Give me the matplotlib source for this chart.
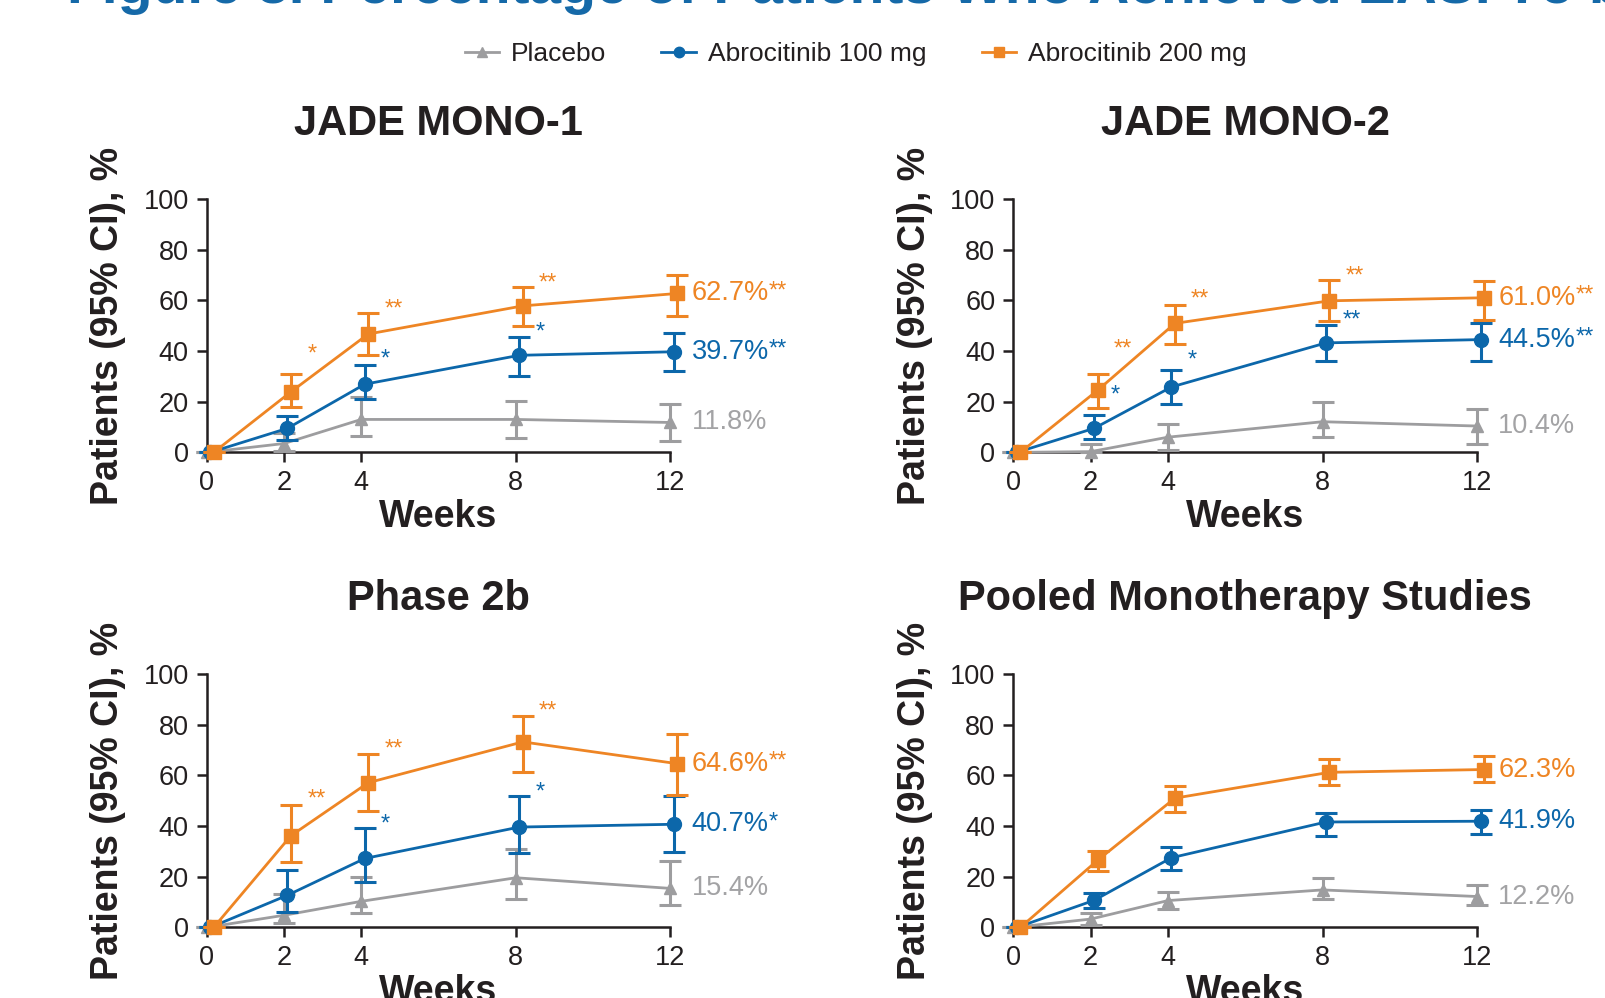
import matplotlib
matplotlib.use("Agg")
import matplotlib.pyplot as plt

plt.rcParams['font.family'] = ['Liberation Sans', 'DejaVu Sans']

weeks = [0, 2, 4, 8, 12]
tick_labels = ["0", "2", "4", "8", "12"]

series_names = ["Placebo", "Abrocitinib 100 mg", "Abrocitinib 200 mg"]
panel_titles = ["JADE MONO-1", "JADE MONO-2", "Phase 2b", "Pooled Monotherapy Studies"]

# JADE MONO-1
m1_pbo = [0, 3.5, 13.0, 13.0, 11.8]
m1_pbo_lo = [0, 0.5, 6.5, 5.6, 4.5]
m1_pbo_hi = [0, 7.6, 22.0, 20.4, 19.0]
m1_100 = [0, 9.5, 26.9, 38.3, 39.7]
m1_100_lo = [0, 5.0, 20.9, 30.0, 32.0]
m1_100_hi = [0, 14.4, 34.3, 45.7, 47.0]
m1_200 = [0, 23.9, 46.7, 57.8, 62.7]
m1_200_lo = [0, 17.8, 38.5, 49.9, 53.8]
m1_200_hi = [0, 30.8, 55.0, 65.3, 69.8]
m1_100_stars = ["", "", "*", "*", ""]
m1_200_stars = ["", "*", "**", "**", ""]
m1_end_stars = ["", "**", "**"]

# JADE MONO-2
m2_pbo = [0, 0.3, 6.0, 12.1, 10.4]
m2_pbo_lo = [0, 0, 0.8, 5.9, 3.3]
m2_pbo_hi = [0, 3.3, 11.1, 19.8, 17.0]
m2_100 = [0, 9.5, 25.8, 43.2, 44.5]
m2_100_lo = [0, 5.2, 18.9, 36.2, 36.2]
m2_100_hi = [0, 14.8, 32.6, 50.4, 51.0]
m2_200 = [0, 24.5, 50.9, 59.8, 61.0]
m2_200_lo = [0, 17.4, 42.8, 52.0, 52.3]
m2_200_hi = [0, 30.8, 58.2, 68.0, 67.6]
m2_100_stars = ["", "*", "*", "**", ""]
m2_200_stars = ["", "**", "**", "**", ""]
m2_end_stars = ["", "**", "**"]

# Phase 2b
p2_pbo = [0, 4.8, 10.3, 19.6, 15.4]
p2_pbo_lo = [0, 1.6, 5.5, 11.4, 8.8]
p2_pbo_hi = [0, 13.3, 20.0, 31.0, 26.4]
p2_100 = [0, 12.7, 27.2, 39.6, 40.7]
p2_100_lo = [0, 6.1, 18.0, 29.4, 29.9]
p2_100_hi = [0, 22.5, 39.2, 51.9, 51.9]
p2_200 = [0, 36.2, 57.1, 73.2, 64.6]
p2_200_lo = [0, 25.9, 45.8, 61.4, 52.2]
p2_200_hi = [0, 48.4, 68.6, 83.5, 76.5]
p2_100_stars = ["", "", "*", "*", ""]
p2_200_stars = ["", "**", "**", "**", ""]
p2_end_stars = ["", "*", "**"]

# Pooled
pl_pbo = [0, 3.3, 10.6, 14.8, 12.2]
pl_pbo_lo = [0, 0.9, 7.2, 11.1, 8.8]
pl_pbo_hi = [0, 5.5, 14.1, 19.5, 16.7]
pl_100 = [0, 10.7, 27.5, 41.6, 41.9]
pl_100_lo = [0, 7.5, 22.7, 35.9, 37.0]
pl_100_hi = [0, 13.7, 31.8, 45.1, 46.4]
pl_200 = [0, 26.5, 51.0, 61.2, 62.3]
pl_200_lo = [0, 22.1, 45.5, 56.1, 57.5]
pl_200_hi = [0, 30.1, 55.6, 66.4, 67.5]
pl_100_stars = ["", "", "", "", ""]
pl_200_stars = ["", "", "", "", ""]
pl_end_stars = ["", "", ""]

GRAY = "#9d9d9f"
GRAY_TXT = "#a3a3a5"
BLUE = "#0c67aa"
ORANGE = "#ee8524"
DARK = "#231f20"

colors = [GRAY, BLUE, ORANGE]
txt_colors = [GRAY_TXT, BLUE, ORANGE]
markers = ["^", "o", "s"]
msizes = [9, 10, 10]
jitter = [0.0, 0.09, 0.18]

panels = [
    ([(m1_pbo, m1_pbo_lo, m1_pbo_hi), (m1_100, m1_100_lo, m1_100_hi), (m1_200, m1_200_lo, m1_200_hi)],
     [None, m1_100_stars, m1_200_stars], m1_end_stars),
    ([(m2_pbo, m2_pbo_lo, m2_pbo_hi), (m2_100, m2_100_lo, m2_100_hi), (m2_200, m2_200_lo, m2_200_hi)],
     [None, m2_100_stars, m2_200_stars], m2_end_stars),
    ([(p2_pbo, p2_pbo_lo, p2_pbo_hi), (p2_100, p2_100_lo, p2_100_hi), (p2_200, p2_200_lo, p2_200_hi)],
     [None, p2_100_stars, p2_200_stars], p2_end_stars),
    ([(pl_pbo, pl_pbo_lo, pl_pbo_hi), (pl_100, pl_100_lo, pl_100_hi), (pl_200, pl_200_lo, pl_200_hi)],
     [None, pl_100_stars, pl_200_stars], pl_end_stars),
]

fig = plt.figure(figsize=(16.05, 9.98), dpi=100)

lefts = [0.1288, 0.6314, 0.1288, 0.6314]
bottoms = [0.5467, 0.5467, 0.0707, 0.0707]
W, H = 0.2889, 0.2540

# poster heading, only its lower part is inside the crop
fig.text(0.0415, 0.9965, "Figure 3. Percentage of Patients Who Achieved EASI-75 by Visit",
         color="#1569a8", fontsize=41, fontweight="bold", va="baseline", ha="left")

handles = []
for i, (series, stars, end_stars) in enumerate(panels):
    ax = fig.add_axes([lefts[i], bottoms[i], W, H])
    for k, (vals, lo, hi) in enumerate(series):
        x = [w + jitter[k] for w in weeks]
        yerr = [[v - l for v, l in zip(vals, lo)], [h - v for v, h in zip(vals, hi)]]
        yerr[0][0] = 0; yerr[1][0] = 0
        eb = ax.errorbar(x, vals, yerr=yerr, color=colors[k], marker=markers[k],
                         markersize=msizes[k], lw=2.0, elinewidth=2.2, capsize=8,
                         capthick=2.2, zorder=3 + k, clip_on=False)
        if i == 0:
            handles.append(eb.lines[0])
        if stars[k] is not None:
            for j, s in enumerate(stars[k]):
                if not s:
                    continue
                sx = x[j] + 0.42
                # keep the star clear of the rising line
                slope = (vals[j + 1] - vals[j]) / (weeks[j + 1] - weeks[j])
                on_line = vals[j] + slope * 0.6
                sy = max(hi[j] + 1.5, on_line + 8)
                ax.text(sx, sy, s, color=colors[k], fontsize=17, ha="left", va="center")
        t = ax.text(12 + 0.55, vals[-1], f"{vals[-1]:.1f}%", color=txt_colors[k],
                    fontsize=19.5, ha="left", va="center")
        if end_stars[k]:
            ax.annotate(end_stars[k], xy=(1, 1), xycoords=t, ha="left", va="top",
                        fontsize=17, color=txt_colors[k])

    ax.set_xlim(0, 12)
    ax.set_ylim(0, 100)
    ax.set_xticks(weeks)
    ax.set_xticklabels(tick_labels)
    ax.set_yticks([0, 20, 40, 60, 80, 100])
    for sp in ["top", "right"]:
        ax.spines[sp].set_visible(False)
    for sp in ["left", "bottom"]:
        ax.spines[sp].set_linewidth(1.8)
        ax.spines[sp].set_color(DARK)
    ax.tick_params(length=7, width=1.8, color=DARK, labelcolor=DARK, pad=6)
    for lab in ax.get_xticklabels() + ax.get_yticklabels():
        lab.set_family(["Liberation Sans Narrow", "Liberation Sans"])
        lab.set_fontsize(19.5)
    ax.set_ylabel("Patients (95% CI), %", fontsize=27, fontweight="bold", color=DARK, va="center")
    ax.yaxis.set_label_coords(-0.212, 0.5)
    ax.set_xlabel("Weeks", fontsize=27, fontweight="bold", color=DARK, va="center")
    ax.xaxis.set_label_coords(0.5, -0.255)
    ax.text(0.5, 1.297, panel_titles[i], transform=ax.transAxes, ha="center", va="center",
            fontsize=30, fontweight="bold", color=DARK)

fig.legend(handles, series_names, loc="center", bbox_to_anchor=(0.533, 0.946), ncol=3,
           frameon=False, fontsize=19, handlelength=1.3, handletextpad=0.45,
           columnspacing=2.1, markerscale=0.75, labelcolor=DARK)

fig.savefig("out.png", dpi=100)
